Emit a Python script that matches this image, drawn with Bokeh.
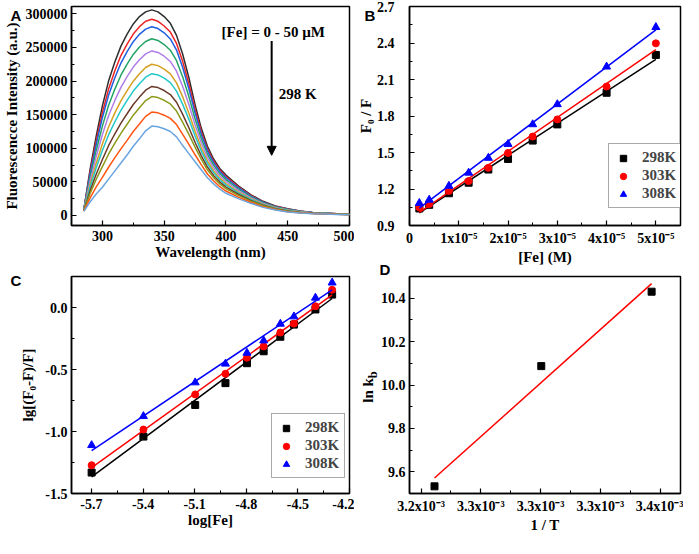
import numpy as np
from bokeh.plotting import figure
from bokeh.models import (Range1d, FixedTicker, CustomJSTickFormatter, Label, Arrow,
                          NormalHead, NumeralTickFormatter, GridBox, Div)
from bokeh.embed import file_html
from bokeh.resources import INLINE

# ---------------- data ----------------
wavelength = [285, 290, 295, 300, 305, 310, 315, 320, 325, 330, 335, 340, 345, 350, 355, 360, 365,
              370, 375, 380, 385, 390, 395, 400, 410, 420, 430, 440, 450, 460, 470, 480, 490, 500]
spec_0uM = [9000, 68000, 118000, 163000, 200000, 228000, 252000, 270000, 285000, 296000, 303000, 306000, 303000, 296000, 286000, 268000, 240000, 205000, 165000, 130000, 103000, 84000, 70000, 60000, 44000, 31000, 21000, 14000, 10000, 6500, 4500, 3500, 2500, 2000]
spec_2uM = [8800, 64000, 111000, 153000, 188000, 215000, 238000, 255000, 270000, 281000, 289000, 292000, 289000, 282000, 273000, 256000, 229000, 196000, 158000, 125000, 99000, 81000, 67500, 58000, 42500, 30000, 20000, 13500, 9600, 6300, 4300, 3400, 2400, 1900]
spec_4uM = [8600, 61000, 105500, 145500, 178800, 204500, 226800, 243900, 258600, 269600, 277300, 280900, 278200, 271800, 262700, 246100, 220300, 188600, 152700, 121000, 96200, 78600, 65500, 56100, 41200, 29100, 19700, 13100, 9300, 6100, 4200, 3300, 2400, 1900]
spec_8uM = [8300, 56000, 96600, 132900, 163600, 187700, 208700, 225200, 239700, 250700, 258900, 262900, 260400, 254400, 245900, 230400, 206100, 176900, 143800, 114600, 91300, 74800, 62300, 53300, 39300, 27800, 18800, 12500, 8800, 5800, 4000, 3100, 2300, 1800]
spec_12uM = [7900, 51100, 87600, 120300, 148500, 170800, 190600, 206500, 220800, 231800, 240500, 244900, 242600, 237000, 229200, 214700, 192000, 165100, 135000, 108100, 86400, 70900, 59100, 50500, 37300, 26400, 17800, 11900, 8200, 5400, 3800, 3000, 2100, 1600]
spec_16uM = [7600, 45500, 77800, 106400, 131700, 152200, 170600, 185800, 199800, 210800, 220200, 225000, 223000, 217800, 210700, 197300, 176400, 152100, 125200, 101000, 81000, 66700, 55500, 47400, 35100, 24900, 16800, 11200, 7700, 5100, 3600, 2800, 2000, 1500]
spec_20uM = [7400, 41600, 70800, 96600, 119800, 139100, 156500, 171200, 185100, 196100, 205800, 211000, 209100, 204300, 197600, 185100, 165300, 143000, 118300, 96000, 77200, 63700, 53000, 45200, 33600, 23900, 16100, 10700, 7300, 4900, 3400, 2700, 2000, 1500]
spec_25uM = [7000, 36400, 61300, 83300, 103800, 121200, 137300, 151400, 165100, 176100, 186400, 192000, 190300, 185900, 179900, 168500, 150400, 130500, 109000, 89100, 72000, 59600, 49600, 42200, 31500, 22400, 15100, 10000, 6700, 4500, 3200, 2500, 1800, 1300]
spec_30uM = [6800, 32200, 53800, 72700, 91100, 107100, 122200, 135700, 149200, 160200, 171000, 176900, 175400, 171400, 165900, 155400, 138500, 120700, 101600, 83700, 67900, 56400, 46900, 39900, 29800, 21300, 14300, 9500, 6300, 4300, 3000, 2400, 1800, 1300]
spec_40uM = [6400, 25800, 42400, 56600, 71700, 85600, 99100, 111800, 125000, 136000, 147400, 153900, 152700, 149200, 144500, 135300, 120500, 105700, 90300, 75500, 61700, 51500, 42800, 36300, 27300, 19600, 13100, 8700, 5600, 3900, 2700, 2200, 1600, 1100]
spec_50uM = [6000, 20000, 32000, 42000, 54000, 66000, 78000, 90000, 103000, 114000, 126000, 133000, 132000, 129000, 125000, 117000, 104000, 92000, 80000, 68000, 56000, 47000, 39000, 33000, 25000, 18000, 12000, 8000, 5000, 3500, 2500, 2000, 1500, 1000]
spectra = [spec_0uM, spec_2uM, spec_4uM, spec_8uM, spec_12uM, spec_16uM, spec_20uM,
           spec_25uM, spec_30uM, spec_40uM, spec_50uM]
spectra_colors = ["#2e2e2e", "#ee2424", "#1f5fe0", "#22a366", "#b07ee8", "#d6a020",
                  "#22c8c8", "#6b3a2a", "#8c9a1a", "#ff5511", "#6aa5e0"]

fe_conc = [2e-6, 4e-6, 8e-6, 12e-6, 16e-6, 20e-6, 25e-6, 30e-6, 40e-6, 50e-6]
f0f_298 = [1.04, 1.07, 1.165, 1.252, 1.36, 1.447, 1.598, 1.731, 1.991, 2.302]
f0f_303 = [1.049, 1.076, 1.184, 1.265, 1.374, 1.496, 1.631, 1.772, 2.042, 2.397]
f0f_308 = [1.084, 1.111, 1.225, 1.333, 1.455, 1.569, 1.731, 1.896, 2.205, 2.53]

log_fe = [-5.699, -5.398, -5.097, -4.921, -4.796, -4.699, -4.602, -4.523, -4.398, -4.301]
lg_298 = [-1.331, -1.041, -0.786, -0.61, -0.449, -0.353, -0.236, -0.138, -0.016, 0.104]
lg_303 = [-1.272, -0.984, -0.701, -0.535, -0.405, -0.314, -0.202, -0.130, 0.010, 0.143]
lg_308 = [-1.111, -0.877, -0.605, -0.454, -0.366, -0.267, -0.132, -0.073, 0.078, 0.200]

temps = [308, 303, 298]
inv_T = [1.0 / t for t in temps]
ln_kb = [9.533, 10.087, 10.43]

series_labels = ["298K", "303K", "308K"]
series_colors = ["black", "#ff0000", "#0000ff"]
series_markers = ["square", "circle", "triangle"]

b_ticks = [0, 1e-5, 2e-5, 3e-5, 4e-5, 5e-5]
b_tick_labels = ["0", "1x10\u207b\u2075", "2x10\u207b\u2075", "3x10\u207b\u2075", "4x10\u207b\u2075", "5x10\u207b\u2075"]
d_ticks = [3.24e-3, 3.27e-3, 3.30e-3, 3.33e-3, 3.36e-3]
d_tick_labels = ["3.2x10\u207b\u00b3", "3.3x10\u207b\u00b3", "3.3x10\u207b\u00b3", "3.3x10\u207b\u00b3", "3.4x10\u207b\u00b3"]

SERIF = "Liberation Serif"
SANS = "Liberation Sans"

TOP_H = 270
BOT_H = 268
LEFT_W = 354
RIGHT_W = 329
# origin used for the overlaid texts (measured: overlays sit 8px up/left of the cell corner)
ROW_Y = [0, TOP_H]
COL_X = [0, LEFT_W]


def make_fig(width, height, xr, yr, bl, br, bt, bb):
    p = figure(width=width, height=height, x_range=xr, y_range=yr,
               output_backend="svg", toolbar_location=None,
               min_border_left=bl, min_border_right=br, min_border_top=bt, min_border_bottom=bb)
    p.xgrid.visible = False
    p.ygrid.visible = False
    p.outline_line_color = "black"
    p.outline_line_width = 1.5
    p.outline_line_alpha = 1
    p.background_fill_color = "white"
    p.border_fill_color = "white"
    for ax in (p.xaxis[0], p.yaxis[0]):
        ax.axis_line_width = 1.5
        ax.major_tick_in = 5
        ax.major_tick_out = 0
        ax.minor_tick_in = 3
        ax.minor_tick_out = 0
        ax.major_tick_line_width = 1.2
        ax.minor_tick_line_width = 1
        ax.major_label_text_font = SERIF
        ax.major_label_text_font_style = "bold"
        ax.major_label_text_font_size = "14px"
        ax.major_label_text_color = "black"
        ax.axis_label_text_font = SERIF
        ax.axis_label_text_font_style = "bold"
        ax.axis_label_text_font_size = "15px"
        ax.axis_label_text_color = "black"
        ax.major_label_standoff = 4
        ax.axis_label_standoff = 3
    p.xaxis.major_label_standoff = 5
    p.xaxis.axis_label_standoff = 0
    return p


def fixed_formatter(ticks, labels):
    return CustomJSTickFormatter(args=dict(tv=ticks, labels=labels), code="""
        for (let i = 0; i < tv.length; i++) {
            if (Math.abs(tv[i] - tick) < 1e-10) { return labels[i]; }
        }
        return "";
    """)


def overlay_text(html, cx, cy, r, c, w, h, font=SANS, size="15px", rotate=0):
    dx = cx - COL_X[c] - w / 2.0
    dy = cy - ROW_Y[r] - h / 2.0
    tf = "translate(%.1fpx, %.1fpx)" % (dx, dy)
    if rotate:
        tf += " rotate(%ddeg)" % rotate
    inner = ('<div style="width:%dpx;height:%dpx;line-height:%dpx;text-align:center;'
             'font-family:\'%s\';font-weight:bold;font-size:%s;color:black;white-space:nowrap;'
             'margin:0;padding:0;">%s</div>') % (w, h, h, font, size, html)
    d = Div(text=inner, width=w, height=h, margin=0,
            styles={"position": "relative", "z-index": "5", "transform": tf,
                    "pointer-events": "none"})
    return (d, r, c)


def style_legend(p, loc):
    lg = p.legend[0]
    lg.location = loc
    lg.label_text_font = SERIF
    lg.label_text_font_style = "bold"
    lg.label_text_font_size = "15px"
    lg.border_line_color = "#555555"
    lg.border_line_width = 1
    lg.padding = 5
    lg.spacing = 1
    lg.margin = 0
    lg.glyph_width = 18
    lg.glyph_height = 16
    lg.label_height = 16
    lg.label_standoff = 10
    lg.background_fill_alpha = 1


# ---------------- Panel A ----------------
pA = make_fig(LEFT_W, TOP_H, Range1d(275, 500), Range1d(-15000, 311000), 62, 5, 6, 45)
pA.xaxis.ticker = FixedTicker(ticks=[300, 350, 400, 450, 500], minor_ticks=[275, 325, 375, 425, 475])
pA.yaxis.ticker = FixedTicker(ticks=[0, 50000, 100000, 150000, 200000, 250000, 300000],
                              minor_ticks=[25000, 75000, 125000, 175000, 225000, 275000])
pA.yaxis.formatter = NumeralTickFormatter(format="0")
pA.xaxis.axis_label = "Wavelength (nm)"
pA.yaxis.axis_label = "Fluorescencce Intensity (a.u.)"
for spec, col in zip(spectra, spectra_colors):
    pA.line(wavelength, spec, line_color=col, line_width=1.5)
pA.add_layout(Arrow(end=NormalHead(size=9, fill_color="black", line_color="black"),
                    x_start=437, y_start=259500, x_end=437, y_end=89500,
                    line_width=2, line_color="black"))
pA.add_layout(Label(x=438.3, y=272700, text="[Fe] = 0 - 50 \u00b5M", text_font=SERIF,
                    text_font_style="bold", text_font_size="15px", text_align="center",
                    text_baseline="middle", text_color="black"))
pA.add_layout(Label(x=442.7, y=180600, text="298 K", text_font=SERIF,
                    text_font_style="bold", text_font_size="15px", text_align="left",
                    text_baseline="middle", text_color="black"))

# ---------------- Panel B ----------------
pB = make_fig(RIGHT_W, TOP_H, Range1d(0, 5.5e-5), Range1d(0.9, 2.7), 51, 3, 6, 45)
pB.xaxis.ticker = FixedTicker(ticks=b_ticks, minor_ticks=[0.5e-5, 1.5e-5, 2.5e-5, 3.5e-5, 4.5e-5])
pB.xaxis.formatter = fixed_formatter(b_ticks, b_tick_labels)
pB.yaxis.ticker = FixedTicker(ticks=[0.9, 1.2, 1.5, 1.8, 2.1, 2.4, 2.7],
                              minor_ticks=[1.05, 1.35, 1.65, 1.95, 2.25, 2.55])
pB.yaxis.formatter = NumeralTickFormatter(format="0.0")
pB.xaxis.axis_label = "[Fe] (M)"
pB.yaxis.axis_label = "F\u2080 / F"
pB.yaxis.major_label_standoff = 15
pB.yaxis.axis_label_standoff = 0
for yv, lab, col, mk in zip([f0f_298, f0f_303, f0f_308], series_labels, series_colors, series_markers):
    k, b0 = np.polyfit(fe_conc, yv, 1)
    xs = [min(fe_conc), max(fe_conc)]
    pB.line(xs, [k * x + b0 for x in xs], line_color=col, line_width=1.5)
    pB.scatter(fe_conc, yv, marker=mk, size=7 if mk != "triangle" else 8, color=col, legend_label=lab)
style_legend(pB, (199, 17))

# ---------------- Panel C ----------------
pC = make_fig(LEFT_W, BOT_H, Range1d(-5.816, -4.2), Range1d(-1.5, 0.25), 62, 5, 6, 45)
pC.xaxis.ticker = FixedTicker(ticks=[-5.7, -5.4, -5.1, -4.8, -4.5, -4.2],
                              minor_ticks=[-5.55, -5.25, -4.95, -4.65, -4.35])
pC.xaxis.formatter = NumeralTickFormatter(format="0.0")
pC.yaxis.ticker = FixedTicker(ticks=[-1.5, -1.0, -0.5, 0.0], minor_ticks=[-1.25, -0.75, -0.25])
pC.yaxis.formatter = NumeralTickFormatter(format="0.0")
pC.xaxis.axis_label = "log[Fe]"
pC.yaxis.axis_label = "lg[(F\u2080-F)/F]"
pC.yaxis.axis_label_standoff = 6
for yv, lab, col, mk in zip([lg_298, lg_303, lg_308], series_labels, series_colors, series_markers):
    k, b0 = np.polyfit(log_fe, yv, 1)
    xs = [min(log_fe), max(log_fe)]
    pC.line(xs, [k * x + b0 for x in xs], line_color=col, line_width=1.5)
    pC.scatter(log_fe, yv, marker=mk, size=7 if mk != "triangle" else 8, color=col, legend_label=lab)
style_legend(pC, (200, 15))

# ---------------- Panel D ----------------
pD = make_fig(RIGHT_W, BOT_H, Range1d(3.2342e-3, 3.3702e-3), Range1d(9.5, 10.5), 52, 3, 5, 45)
pD.xaxis.ticker = FixedTicker(ticks=d_ticks, minor_ticks=[3.255e-3, 3.285e-3, 3.315e-3, 3.345e-3])
pD.xaxis.formatter = fixed_formatter(d_ticks, d_tick_labels)
pD.yaxis.ticker = FixedTicker(ticks=[9.6, 9.8, 10.0, 10.2, 10.4],
                              minor_ticks=[9.5, 9.7, 9.9, 10.1, 10.3, 10.5])
pD.yaxis.formatter = NumeralTickFormatter(format="0.0")
pD.xaxis.axis_label = "1 / T"
k, b0 = np.polyfit(inv_T, ln_kb, 1)
xs = [min(inv_T), max(inv_T)]
pD.line(xs, [k * x + b0 for x in xs], line_color="#ff0000", line_width=1.5)
pD.scatter(inv_T, ln_kb, marker="square", size=7, color="black")

# ---------------- overlaid texts: panel letters and D's y title ----------------
overlays = [
    overlay_text("A", 16, 16, 0, 0, 14, 14),
    overlay_text("B", 370, 16, 0, 1, 14, 14),
    overlay_text("C", 16, 281, 1, 0, 14, 14),
    overlay_text("D", 385, 270, 1, 1, 14, 14),
    overlay_text("ln k<sub>b</sub>", 368, 387, 1, 1, 50, 20, font=SERIF, rotate=-90),
]

grid = GridBox(children=[(pA, 0, 0), (pB, 0, 1), (pC, 1, 0), (pD, 1, 1)] + overlays, spacing=0)
open("out.html", "w").write(file_html(grid, INLINE))
